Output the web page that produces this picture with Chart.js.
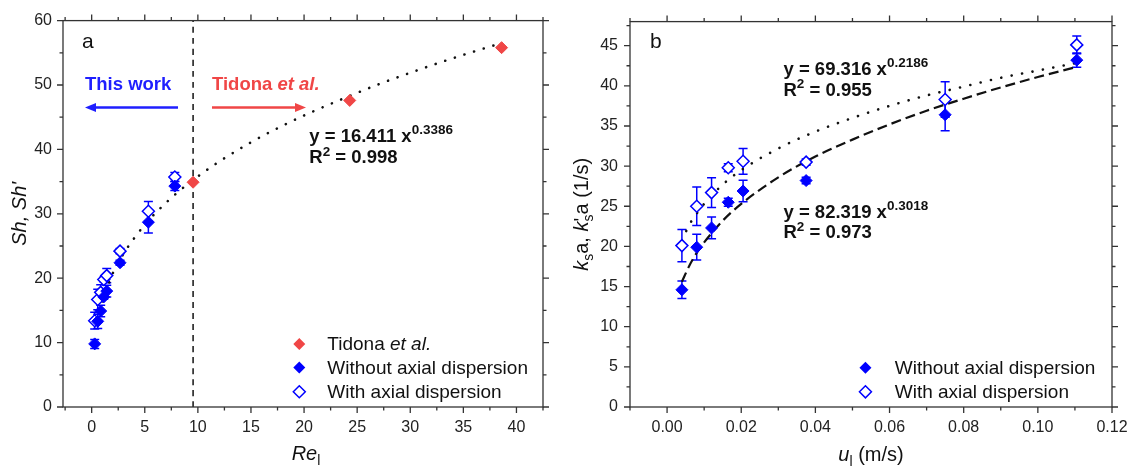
<!DOCTYPE html>
<html>
<head>
<meta charset="utf-8">
<script src="https://cdn.jsdelivr.net/npm/chart.js@4.4.1/dist/chart.umd.min.js"></script>
<style>
  html, body { margin: 0; padding: 0; background: #fff; overflow: hidden; }
  #wrapA { position: absolute; left: 0; top: 0; }
  #wrapB { position: absolute; left: 560px; top: 0; }
</style>
</head>
<body>
<div id="wrapA"><canvas id="chartA" width="563" height="467"></canvas></div>
<div id="wrapB"><canvas id="chartB" width="590" height="467"></canvas></div>
<script>
// ---- panel a: Sh vs Re ----
const reTicks = [0, 5, 10, 15, 20, 25, 30, 35, 40];
const shTicks = [0, 10, 20, 30, 40, 50, 60];
const reTidona = [9.55, 24.3, 38.6];
const shTidona = [34.9, 47.6, 55.8];
const reThis = [0.285, 0.57, 0.85, 1.14, 1.42, 2.67, 5.34, 7.83];
const shNoDisp = [9.8, 13.3, 14.9, 17.1, 18.0, 22.4, 28.7, 34.3];
const shNoDispErr = [0.7, 1.1, 0.9, 0.35, 0.9, 0.4, 1.7, 0.7];
const shDisp = [13.4, 16.7, 17.8, 19.8, 20.4, 24.2, 30.4, 35.7];
const shDispErr = [1.3, 1.6, 1.2, 0.35, 1.1, 0.4, 1.5, 0.7];
const reFit = [1, 2, 3, 4, 5, 6, 8, 10, 12, 15, 18, 21, 24, 27, 30, 33, 36, 38.6];
const shFit = [16.4, 20.8, 23.8, 26.2, 28.3, 30.1, 33.2, 35.8, 38.1, 41.1, 43.7, 46.0, 48.1, 50.1, 51.9, 53.6, 55.2, 56.5];
const reDivider = [9.55, 9.55];
const shDivider = [0, 60];

// ---- panel b: ksa vs u ----
const uTicks = [0, 0.02, 0.04, 0.06, 0.08, 0.10, 0.12];
const kTicks = [0, 5, 10, 15, 20, 25, 30, 35, 40, 45];
const uThis = [0.004, 0.008, 0.012, 0.0165, 0.0205, 0.0375, 0.075, 0.1105];
const kNoDisp = [14.6, 19.9, 22.3, 25.5, 26.9, 28.2, 36.4, 43.2];
const kNoDispErr = [1.1, 1.6, 1.35, 0.5, 1.35, 0.4, 2.0, 0.9];
const kDisp = [20.1, 25.0, 26.7, 29.8, 30.6, 30.5, 38.3, 45.1];
const kDispErr = [2.0, 2.4, 1.85, 0.5, 1.6, 0.4, 2.2, 1.1];
const uFit = [0.004, 0.006, 0.008, 0.01, 0.015, 0.02, 0.03, 0.04, 0.05, 0.06, 0.07, 0.08, 0.09, 0.1, 0.11];
const kFitDisp = [20.7, 22.7, 24.1, 25.3, 27.7, 29.5, 32.2, 34.3, 36.0, 37.5, 38.8, 39.9, 41.0, 41.9, 42.8];
const kFitNoDisp = [15.6, 17.6, 19.2, 20.5, 23.2, 25.3, 28.6, 31.2, 33.3, 35.2, 36.9, 38.4, 39.8, 41.1, 42.3];

const FONT = '"Liberation Sans", Arial, sans-serif';
const BLUE = '#0000ff';
const RED = '#f04646';
const f = (style, size) => `${style} ${size}px ${FONT}`;
const R = (t, font, dy, adv) => ({ t, font, dy: dy || 0, adv });
const pts = (xs, ys) => xs.map((x, i) => ({ x, y: ys[i] }));

function drawRuns(ctx, x, y, runs, align) {
    let w = 0;
    runs.forEach(r => {
        ctx.font = r.font;
        r.w = r.adv === 0 ? 0 : ctx.measureText(r.t).width;
        w += r.w;
    });
    let cx = align === 'center' ? x - w / 2 : x;
    runs.forEach(r => {
        ctx.font = r.font;
        ctx.fillText(r.t, cx, y + r.dy);
        cx += r.w;
    });
}

function diamond(ctx, x, y, r, color, filled) {
    ctx.beginPath();
    ctx.moveTo(x - r, y); ctx.lineTo(x, y - r); ctx.lineTo(x + r, y); ctx.lineTo(x, y + r);
    ctx.closePath();
    if (filled) { ctx.fillStyle = color; ctx.fill(); }
    else { ctx.fillStyle = '#fff'; ctx.fill(); ctx.lineWidth = 1.5; ctx.strokeStyle = color; ctx.stroke(); }
}

const errorBars = {
    id: 'errorBars',
    beforeDatasetsDraw(chart) {
        const { ctx } = chart;
        const sx = chart.scales.x, sy = chart.scales.y;
        ctx.save();
        chart.data.datasets.forEach(ds => {
            if (!ds.errors) return;
            ctx.strokeStyle = ds.borderColor;
            ctx.lineWidth = 1.5;
            ds.data.forEach((p, i) => {
                const e = ds.errors[i];
                const px = sx.getPixelForValue(p.x);
                const top = sy.getPixelForValue(p.y + e), bot = sy.getPixelForValue(p.y - e);
                ctx.beginPath();
                ctx.moveTo(px, top); ctx.lineTo(px, bot);
                ctx.moveTo(px - 4.5, top); ctx.lineTo(px + 4.5, top);
                ctx.moveTo(px - 4.5, bot); ctx.lineTo(px + 4.5, bot);
                ctx.stroke();
            });
        });
        ctx.restore();
    }
};

function framePlugin(xMinor, yMinor) {
    const steps = (min, max, step) => {
        const out = [];
        for (let v = Math.ceil(min / step - 1e-9) * step; v <= max + 1e-9; v += step) out.push(v);
        return out;
    };
    return {
        id: 'frameTicks',
        afterDraw(chart) {
            const { ctx, chartArea: a } = chart;
            const sx = chart.scales.x, sy = chart.scales.y;
            ctx.save();
            ctx.strokeStyle = '#333';
            ctx.lineWidth = 1.3;
            ctx.strokeRect(a.left, a.top, a.right - a.left, a.bottom - a.top);
            ctx.beginPath();
            const xm = [...sx.ticks.map(t => [t.value, 6]), ...steps(sx.min, sx.max, xMinor).map(v => [v, 3.5])];
            const ym = [...sy.ticks.map(t => [t.value, 6]), ...steps(sy.min, sy.max, yMinor).map(v => [v, 3.5])];
            xm.forEach(([v, len]) => {
                const px = sx.getPixelForValue(v);
                ctx.moveTo(px, a.bottom); ctx.lineTo(px, a.bottom + len);
                ctx.moveTo(px, a.top); ctx.lineTo(px, a.top - len);
            });
            ym.forEach(([v, len]) => {
                const py = sy.getPixelForValue(v);
                ctx.moveTo(a.left, py); ctx.lineTo(a.left - len, py);
                ctx.moveTo(a.right, py); ctx.lineTo(a.right + len, py);
            });
            ctx.stroke();
            ctx.restore();
        }
    };
}

function annotPlugin(cfg) {
    return {
        id: 'annot',
        afterDraw(chart) {
            const { ctx, chartArea: a } = chart;
            const sx = chart.scales.x, sy = chart.scales.y;
            ctx.save();
            (cfg.arrows || []).forEach(ar => {
                const x1 = sx.getPixelForValue(ar.from), x2 = sx.getPixelForValue(ar.to), y = sy.getPixelForValue(ar.y);
                const dir = Math.sign(x2 - x1);
                ctx.strokeStyle = ar.color; ctx.fillStyle = ar.color; ctx.lineWidth = 2.5;
                ctx.beginPath(); ctx.moveTo(x1, y); ctx.lineTo(x2 - dir * 9, y); ctx.stroke();
                ctx.beginPath(); ctx.moveTo(x2, y); ctx.lineTo(x2 - dir * 11, y - 4.5); ctx.lineTo(x2 - dir * 11, y + 4.5);
                ctx.closePath(); ctx.fill();
            });
            ctx.textBaseline = 'alphabetic';
            cfg.texts.forEach(t => {
                ctx.fillStyle = t.color || '#111';
                drawRuns(ctx, sx.getPixelForValue(t.x), sy.getPixelForValue(t.y), t.runs, 'left');
            });
            const lg = cfg.legend;
            lg.entries.forEach((en, i) => {
                const y = sy.getPixelForValue(lg.rows[i]);
                diamond(ctx, sx.getPixelForValue(lg.markerX), y, 6, en.color, en.filled);
                ctx.fillStyle = '#111';
                ctx.textBaseline = 'middle';
                drawRuns(ctx, sx.getPixelForValue(lg.textX), y + 1, en.runs, 'left');
            });
            ctx.textBaseline = 'alphabetic';
            ctx.fillStyle = '#111';
            drawRuns(ctx, (a.left + a.right) / 2 + cfg.xTitle.dx, cfg.xTitle.y, cfg.xTitle.runs, 'center');
            ctx.translate(cfg.yTitle.x, (a.top + a.bottom) / 2);
            ctx.rotate(-Math.PI / 2);
            drawRuns(ctx, 0, 0, cfg.yTitle.runs, 'center');
            ctx.restore();
        }
    };
}

function axis(min, max, tickValues, size, padding, fmt) {
    return {
        type: 'linear', min, max,
        afterBuildTicks: s => { s.ticks = tickValues.map(v => ({ value: v })); },
        afterFit: s => { if (s.isHorizontal()) s.height = size; else s.width = size; },
        grid: { display: false, drawTicks: false },
        border: { display: false },
        ticks: { font: { family: FONT, size: 16 }, color: '#222', padding, maxRotation: 0, autoSkip: false,
                 callback: fmt || (v => String(v)) }
    };
}

const B18 = f('bold', 18.5), BI18 = f('italic bold', 18.5), B13 = f('bold', 13.5);
const N19 = f('normal', 19), I19 = f('italic', 19), N20 = f('normal', 20), I20 = f('italic', 20), N14 = f('normal', 14);

const annA = {
    arrows: [
        { from: 8.13, to: -0.63, y: 46.5, color: '#1f1fff' },
        { from: 11.33, to: 20.18, y: 46.5, color: RED }
    ],
    texts: [
        { x: -0.91, y: 55.8, runs: [R('a', f('normal', 21))] },
        { x: -0.63, y: 49.3, color: '#1f1fff', runs: [R('This work', B18)] },
        { x: 11.33, y: 49.3, color: RED, runs: [R('Tidona ', B18), R('et al.', BI18)] },
        { x: 20.49, y: 41.2, runs: [R('y = 16.411 x', B18), R('0.3386', B13, -7.5)] },
        { x: 20.49, y: 37.85, runs: [R('R', B18), R('2', B13, -7.5), R(' = 0.998', B18)] }
    ],
    legend: {
        markerX: 19.55, textX: 22.19, rows: [9.79, 6.12, 2.36],
        entries: [
            { color: RED, filled: true, runs: [R('Tidona ', N19), R('et al.', I19)] },
            { color: BLUE, filled: true, runs: [R('Without axial dispersion', N19)] },
            { color: BLUE, filled: false, runs: [R('With axial dispersion', N19)] }
        ]
    },
    xTitle: { dx: 3, y: 460, runs: [R('Re', I20), R('l', N14, 5)] },
    yTitle: { x: 26, runs: [R("Sh, Sh'", I20)] }
};

const annB = {
    texts: [
        { x: -0.0046, y: 44.7, runs: [R('b', f('normal', 21))] },
        { x: 0.0314, y: 41.35, runs: [R('y = 69.316 x', B18), R('0.2186', B13, -7.5)] },
        { x: 0.0314, y: 38.75, runs: [R('R', B18), R('2', B13, -7.5), R(' = 0.955', B18)] },
        { x: 0.0314, y: 23.6, runs: [R('y = 82.319 x', B18), R('0.3018', B13, -7.5)] },
        { x: 0.0314, y: 21.0, runs: [R('R', B18), R('2', B13, -7.5), R(' = 0.973', B18)] }
    ],
    legend: {
        markerX: 0.0535, textX: 0.0614, rows: [4.90, 1.89],
        entries: [
            { color: BLUE, filled: true, runs: [R('Without axial dispersion', N19)] },
            { color: BLUE, filled: false, runs: [R('With axial dispersion', N19)] }
        ]
    },
    xTitle: { dx: 0, y: 461, runs: [R('u', I20), R('l', N14, 5), R(' (m/s)', N20)] },
    yTitle: { x: 28, runs: [R('k', I20), R('s', N14, 5), R('a, ', N20), R('k', I20), R("'", N20, 0, 0),
                            R('s', N14, 5), R('a (1/s)', N20)] }
};

const markerSets = (xs, noDisp, noDispErr, disp, dispErr) => [
    { label: 'Without axial dispersion', data: pts(xs, noDisp), errors: noDispErr, pointStyle: 'rectRot',
      pointRadius: 6, backgroundColor: BLUE, borderColor: BLUE, borderWidth: 1, order: 1 },
    { label: 'With axial dispersion', data: pts(xs, disp), errors: dispErr, pointStyle: 'rectRot',
      pointRadius: 6, backgroundColor: '#fff', borderColor: BLUE, borderWidth: 1.5, order: 2 }
];

const lineSet = (data, dash, width) => ({
    data, showLine: true, pointRadius: 0, borderColor: '#111', borderWidth: width, borderDash: dash,
    borderCapStyle: 'round', cubicInterpolationMode: 'monotone', order: 3
});

new Chart(document.getElementById('chartA'), {
    type: 'scatter',
    data: {
        datasets: [
            { label: 'Tidona et al.', data: pts(reTidona, shTidona), pointStyle: 'rectRot', pointRadius: 6,
              backgroundColor: RED, borderColor: RED, borderWidth: 1, order: 0 },
            ...markerSets(reThis, shNoDisp, shNoDispErr, shDisp, shDispErr),
            lineSet(pts(reFit, shFit), [0.1, 10], 2.6),
            { ...lineSet(pts(reDivider, shDivider), [6, 5], 1.5), borderCapStyle: 'butt' }
        ]
    },
    options: {
        responsive: false, animation: false, events: [],
        layout: { padding: { left: 0, top: 18, right: 20, bottom: 0 } },
        plugins: { legend: { display: false }, tooltip: { enabled: false } },
        scales: {
            x: axis(-2.7, 42.5, reTicks, 60, 11),
            y: axis(0, 60, shTicks, 63, 11)
        }
    },
    plugins: [errorBars, framePlugin(2.5, 5), annotPlugin(annA)]
});

new Chart(document.getElementById('chartB'), {
    type: 'scatter',
    data: {
        datasets: [
            ...markerSets(uThis, kNoDisp, kNoDispErr, kDisp, kDispErr),
            lineSet(pts(uFit, kFitDisp), [0.1, 10.5], 2.6),
            { ...lineSet(pts(uFit, kFitNoDisp), [10, 5], 2.2), borderCapStyle: 'butt' }
        ]
    },
    options: {
        responsive: false, animation: false, events: [],
        layout: { padding: { left: 0, top: 18, right: 38, bottom: 0 } },
        plugins: { legend: { display: false }, tooltip: { enabled: false } },
        scales: {
            x: axis(-0.01, 0.12, uTicks, 60, 11, v => v.toFixed(2)),
            y: axis(0, 48, kTicks, 70, 12)
        }
    },
    plugins: [errorBars, framePlugin(0.01, 2.5), annotPlugin(annB)]
});
</script>
</body>
</html>
